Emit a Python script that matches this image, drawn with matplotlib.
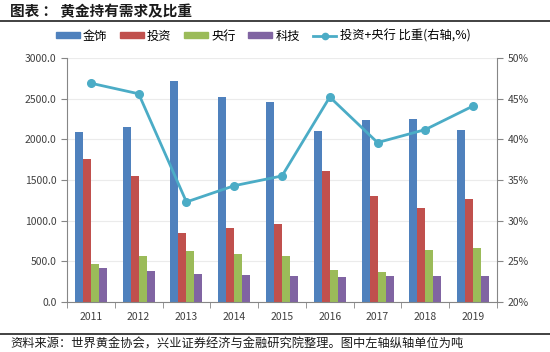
import numpy as np
import matplotlib
matplotlib.use("Agg")
from matplotlib import pyplot as plt
from matplotlib.patches import Patch
from matplotlib.lines import Line2D

plt.rcParams['font.family'] = ['Noto Sans CJK SC', 'DejaVu Sans']

years = ["2011", "2012", "2013", "2014", "2015", "2016", "2017", "2018", "2019"]
jewelry = [2096, 2150, 2713, 2520, 2454, 2100, 2236, 2244, 2117]
invest = [1755, 1554, 847, 904, 958, 1611, 1307, 1155, 1270]
central_bank = [473, 563, 621, 592, 571, 390, 374, 645, 662]
tech = [423, 378, 349, 337, 325, 312, 325, 325, 321]
share_pct = [46.9, 45.6, 32.3, 34.3, 35.5, 45.2, 39.6, 41.2, 44.1]

series_names = ["金饰", "投资", "央行", "科技"]
line_name = "投资+央行 比重(右轴,%)"
colors = ["#4F81BD", "#C0504D", "#9BBB59", "#8064A2"]
line_color = "#4BACC6"

fig = plt.figure(figsize=(5.5, 3.52), dpi=100)
ax = fig.add_axes([67/550, 1 - 302/352, 430/550, 244/352])
ax2 = ax.twinx()

x = np.arange(len(years))
w = 0.167
for i, vals in enumerate([jewelry, invest, central_bank, tech]):
  ax.bar(x + (i - 1.5) * w, vals, width=w, color=colors[i], zorder=2)

ax2.plot(x, share_pct, color=line_color, lw=2, marker="o", ms=5.5, zorder=3)

ax.set_xlim(-0.5, len(years) - 0.5)
ax.set_ylim(0, 3000)
ax.set_yticks(np.arange(0, 3001, 500))
ax.set_yticklabels(["%.1f" % v for v in np.arange(0, 3001, 500)])
ax.yaxis.grid(True, color="#EBEBEB", lw=0.8, zorder=0)
ax.set_axisbelow(True)
ax.set_xticks(x)
ax.set_xticklabels(years)
ax.set_xticks(np.arange(-0.5, len(years), 1), minor=True)
ax.tick_params(axis="x", which="major", length=0, pad=7)
ax.tick_params(axis="x", which="minor", length=4, color="#868686", direction="out")

ax2.set_ylim(20, 50)
ax2.set_yticks(np.arange(20, 51, 5))
ax2.set_yticklabels(["%d%%" % v for v in np.arange(20, 51, 5)])

for a in (ax, ax2):
  a.spines["top"].set_visible(False)
  a.tick_params(labelsize=7.5, colors="#404040", width=0.8)
ax.tick_params(axis="y", length=4, color="#868686")
ax2.tick_params(axis="y", length=4, color="#868686")
ax.spines["right"].set_visible(False)
ax2.spines["left"].set_visible(False)
ax.spines["left"].set_color("#868686")
ax.spines["bottom"].set_color("#868686")
ax2.spines["right"].set_color("#868686")
ax2.spines["bottom"].set_visible(False)

handles = [Patch(color=c) for c in colors]
handles.append(Line2D([], [], color=line_color, lw=2, marker="o", ms=4.5))
fig.legend(handles, series_names + [line_name], loc="center", bbox_to_anchor=(263/550, 1 - 36/352),
           ncol=5, frameon=False, fontsize=8.8, handlelength=1.95, handleheight=0.4,
           columnspacing=1.05, handletextpad=0.25)

fig.text(10/550, 1 - 11/352, "图表 ： 黄金持有需求及比重", fontsize=10.5, fontweight="bold",
         va="center", ha="left", color="#1a1a1a")
fig.add_artist(Line2D([0, 1], [1 - 21/352, 1 - 21/352], color="#333333", lw=1.3))
fig.add_artist(Line2D([0, 1], [1 - 334/352, 1 - 334/352], color="#333333", lw=1.3))
fig.text(10/550, 1 - 344/352, "资料来源：世界黄金协会，兴业证券经济与金融研究院整理。图中左轴纵轴单位为吨",
         fontsize=8.8, va="center", ha="left", color="#1a1a1a")

fig.savefig("out.png", dpi=100)
